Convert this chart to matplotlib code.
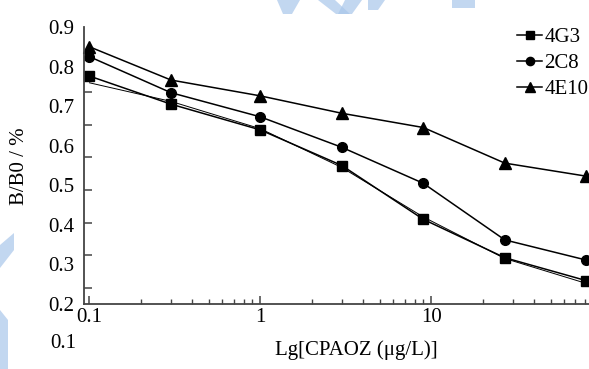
import numpy as np
import matplotlib.pyplot as plt
from matplotlib.patches import Polygon

plt.rcParams['font.family'] = ['Liberation Serif', 'DejaVu Serif']

# concentration of CPAOZ (ug/L)
conc = [0.1, 0.3, 1, 3, 9, 27, 81]

# B/B0 values
b_4g3 = [0.776, 0.705, 0.640, 0.550, 0.414, 0.317, 0.259]
b_2c8 = [0.825, 0.734, 0.673, 0.596, 0.505, 0.362, 0.311]
b_4e10 = [0.850, 0.766, 0.726, 0.682, 0.646, 0.556, 0.523]
# thin fitted curve that runs along 4G3
fit_4g3 = [0.759, 0.712, 0.643, 0.545, 0.420, 0.315, 0.252]

ytick_labels = ['0.2', '0.3', '0.4', '0.5', '0.6', '0.7', '0.8', '0.9']

fs = 15

fig = plt.figure(figsize=(5.89, 3.69), dpi=100)
ax = fig.add_axes([84 / 589, 1 - 304 / 369, 1 - 84 / 589, (304 - 27) / 369])

ax.plot(conc, fit_4g3, color='black', lw=0.7, clip_on=False)
ax.plot(conc, b_4g3, color='black', lw=1.1, marker='s', ms=7, label='4G3', clip_on=False)
ax.plot(conc, b_2c8, color='black', lw=1.1, marker='o', ms=7, label='2C8', clip_on=False)
ax.plot(conc, b_4e10, color='black', lw=1.1, marker='^', ms=8, label='4E10', clip_on=False)

ax.set_xscale('log')
ax.set_xlim(0.0929, 84)
ax.set_ylim(0.2, 0.9)

# labels sit on an even scale, the tick marks on a slightly different one
ax.set_yticks([float(t) for t in ytick_labels])
ax.set_yticklabels(ytick_labels)
ax.set_yticks(0.9 - np.arange(9) * 0.0824, minor=True)
ax.tick_params(axis='y', which='major', length=0, pad=7, labelsize=fs)
ax.tick_params(axis='y', which='minor', direction='in', length=6, width=1.1, color='#444444')

ax.set_xticks([0.1, 1, 10])
ax.set_xticklabels(['0.1', '1', '10'])
ax.tick_params(axis='x', which='major', direction='in', length=6, width=1.1, color='#444444',
               labelsize=fs, pad=3)
ax.tick_params(axis='x', which='minor', direction='in', length=3.5, width=1.0, color='#444444')

for side in ['top', 'right']:
    ax.spines[side].set_visible(False)
for side in ['left', 'bottom']:
    ax.spines[side].set_linewidth(1.3)
    ax.spines[side].set_color('#444444')

ax.set_ylabel('B/B0 / %', fontsize=fs)
ax.set_xlabel('Lg[CPAOZ (μg/L)]', fontsize=fs)
ax.xaxis.set_label_coords(0.54, -0.165)
ax.yaxis.set_label_coords(-0.127, 0.498)
ax.yaxis.label.set_va('center')
ax.xaxis.label.set_va('center')

fig.text(63 / 589, 1 - 343 / 369, '0.1', fontsize=fs, ha='center', va='center')

ax.legend(loc='upper right', bbox_to_anchor=(1.015, 1.027), frameon=False, fontsize=fs,
          handlelength=1.2, handletextpad=0.1, labelspacing=0.3, borderaxespad=0.0,
          markerscale=0.85)

# light blue watermark pieces
wm = '#a9c6ea'
for pts in [
    [(277, 0), (300, 0), (292, 14), (283, 14)],
    [(318, 0), (335, 0), (350, 14), (336, 14)],
    [(345, 0), (362, 0), (352, 14), (338, 14)],
    [(368, 0), (385, 0), (378, 10), (368, 10)],
    [(452, 0), (475, 0), (475, 8), (452, 8)],
    [(0, 245), (14, 233), (14, 250), (0, 268)],
    [(0, 310), (8, 320), (8, 369), (0, 369)],
]:
    xy = [(x / 589, 1 - y / 369) for x, y in pts]
    fig.patches.append(Polygon(xy, closed=True, transform=fig.transFigure,
                               facecolor=wm, edgecolor='none', alpha=0.7, zorder=0))

fig.savefig('out.png', dpi=100)
